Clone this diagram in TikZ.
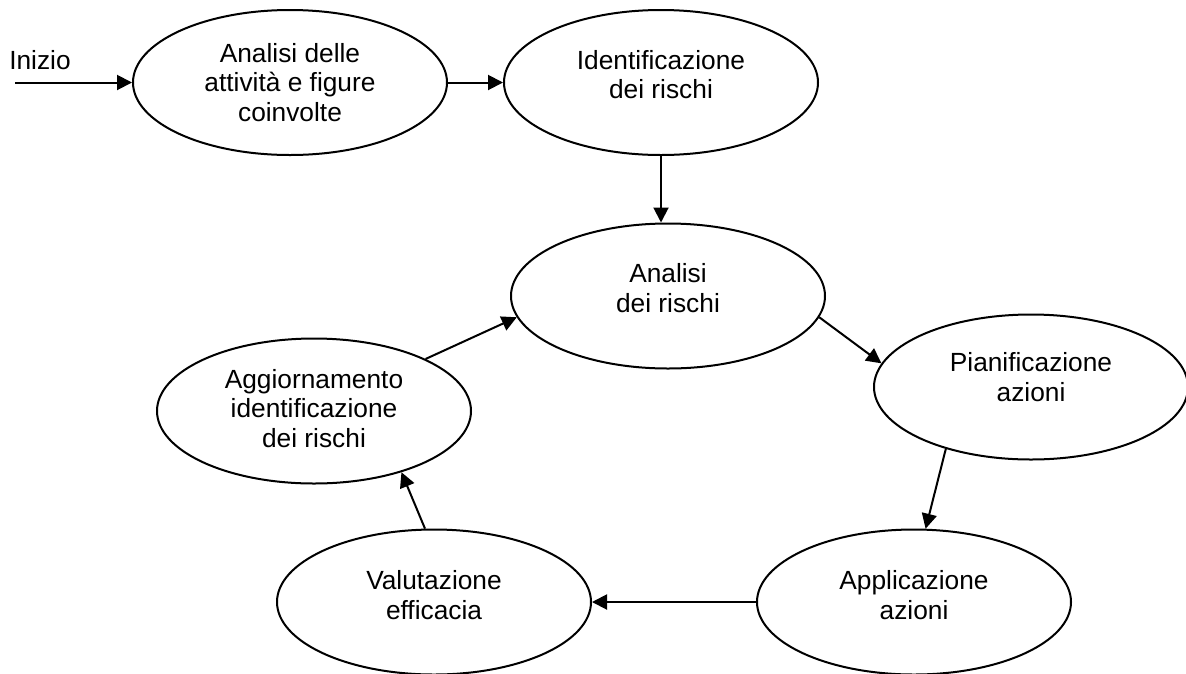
\documentclass[tikz,border=0pt]{standalone}
\usepackage{fontspec}
\setmainfont{Liberation Sans}
\usetikzlibrary{arrows.meta,shapes.geometric}

\begin{document}
\begin{tikzpicture}[x=1pt,y=-1pt,->,>={Triangle[length=15pt,width=15pt]},
      line width=2pt,font=\fontsize{26.3}{29.5}\selectfont,
      main node/.style={ellipse,draw,minimum width=314pt,minimum height=145pt,
        inner sep=0pt,align=center}]

      \useasboundingbox (0,0) rectangle (1186,673);

      \node[main node] (1) at (290,82.5) {Analisi delle\\attività e figure\\coinvolte};
      \node[main node,text depth=16pt] (2) at (661,82.5) {Identificazione\\dei rischi};
      \node[main node,text depth=16pt] (3) at (668,296) {Analisi\\dei rischi};
      \node[main node,text depth=20pt] (4) at (1031,387) {Pianificazione\\azioni};
      \node[main node,text depth=14pt] (7) at (914,602) {Applicazione\\azioni};
      \node[main node,text depth=14pt] (6) at (434,602) {Valutazione\\efficacia};
      \node[main node,text depth=6pt] (5) at (314,411) {Aggiornamento\\identificazione\\dei rischi};
      \node (inizio) at (40,60) {Inizio};
      \coordinate (ingresso) at (15,82.5);

      \path
      (ingresso) edge (1)
      (1) edge (2)
      (2.south) edge (2.south |- 3.north)
      (3.-8) edge (4.171)
      (4.216) edge (7.81)
      (7) edge (6)
      (6.97) edge (5.-35)
      (5.25) edge (3.188);
    \end{tikzpicture}
\end{document}
